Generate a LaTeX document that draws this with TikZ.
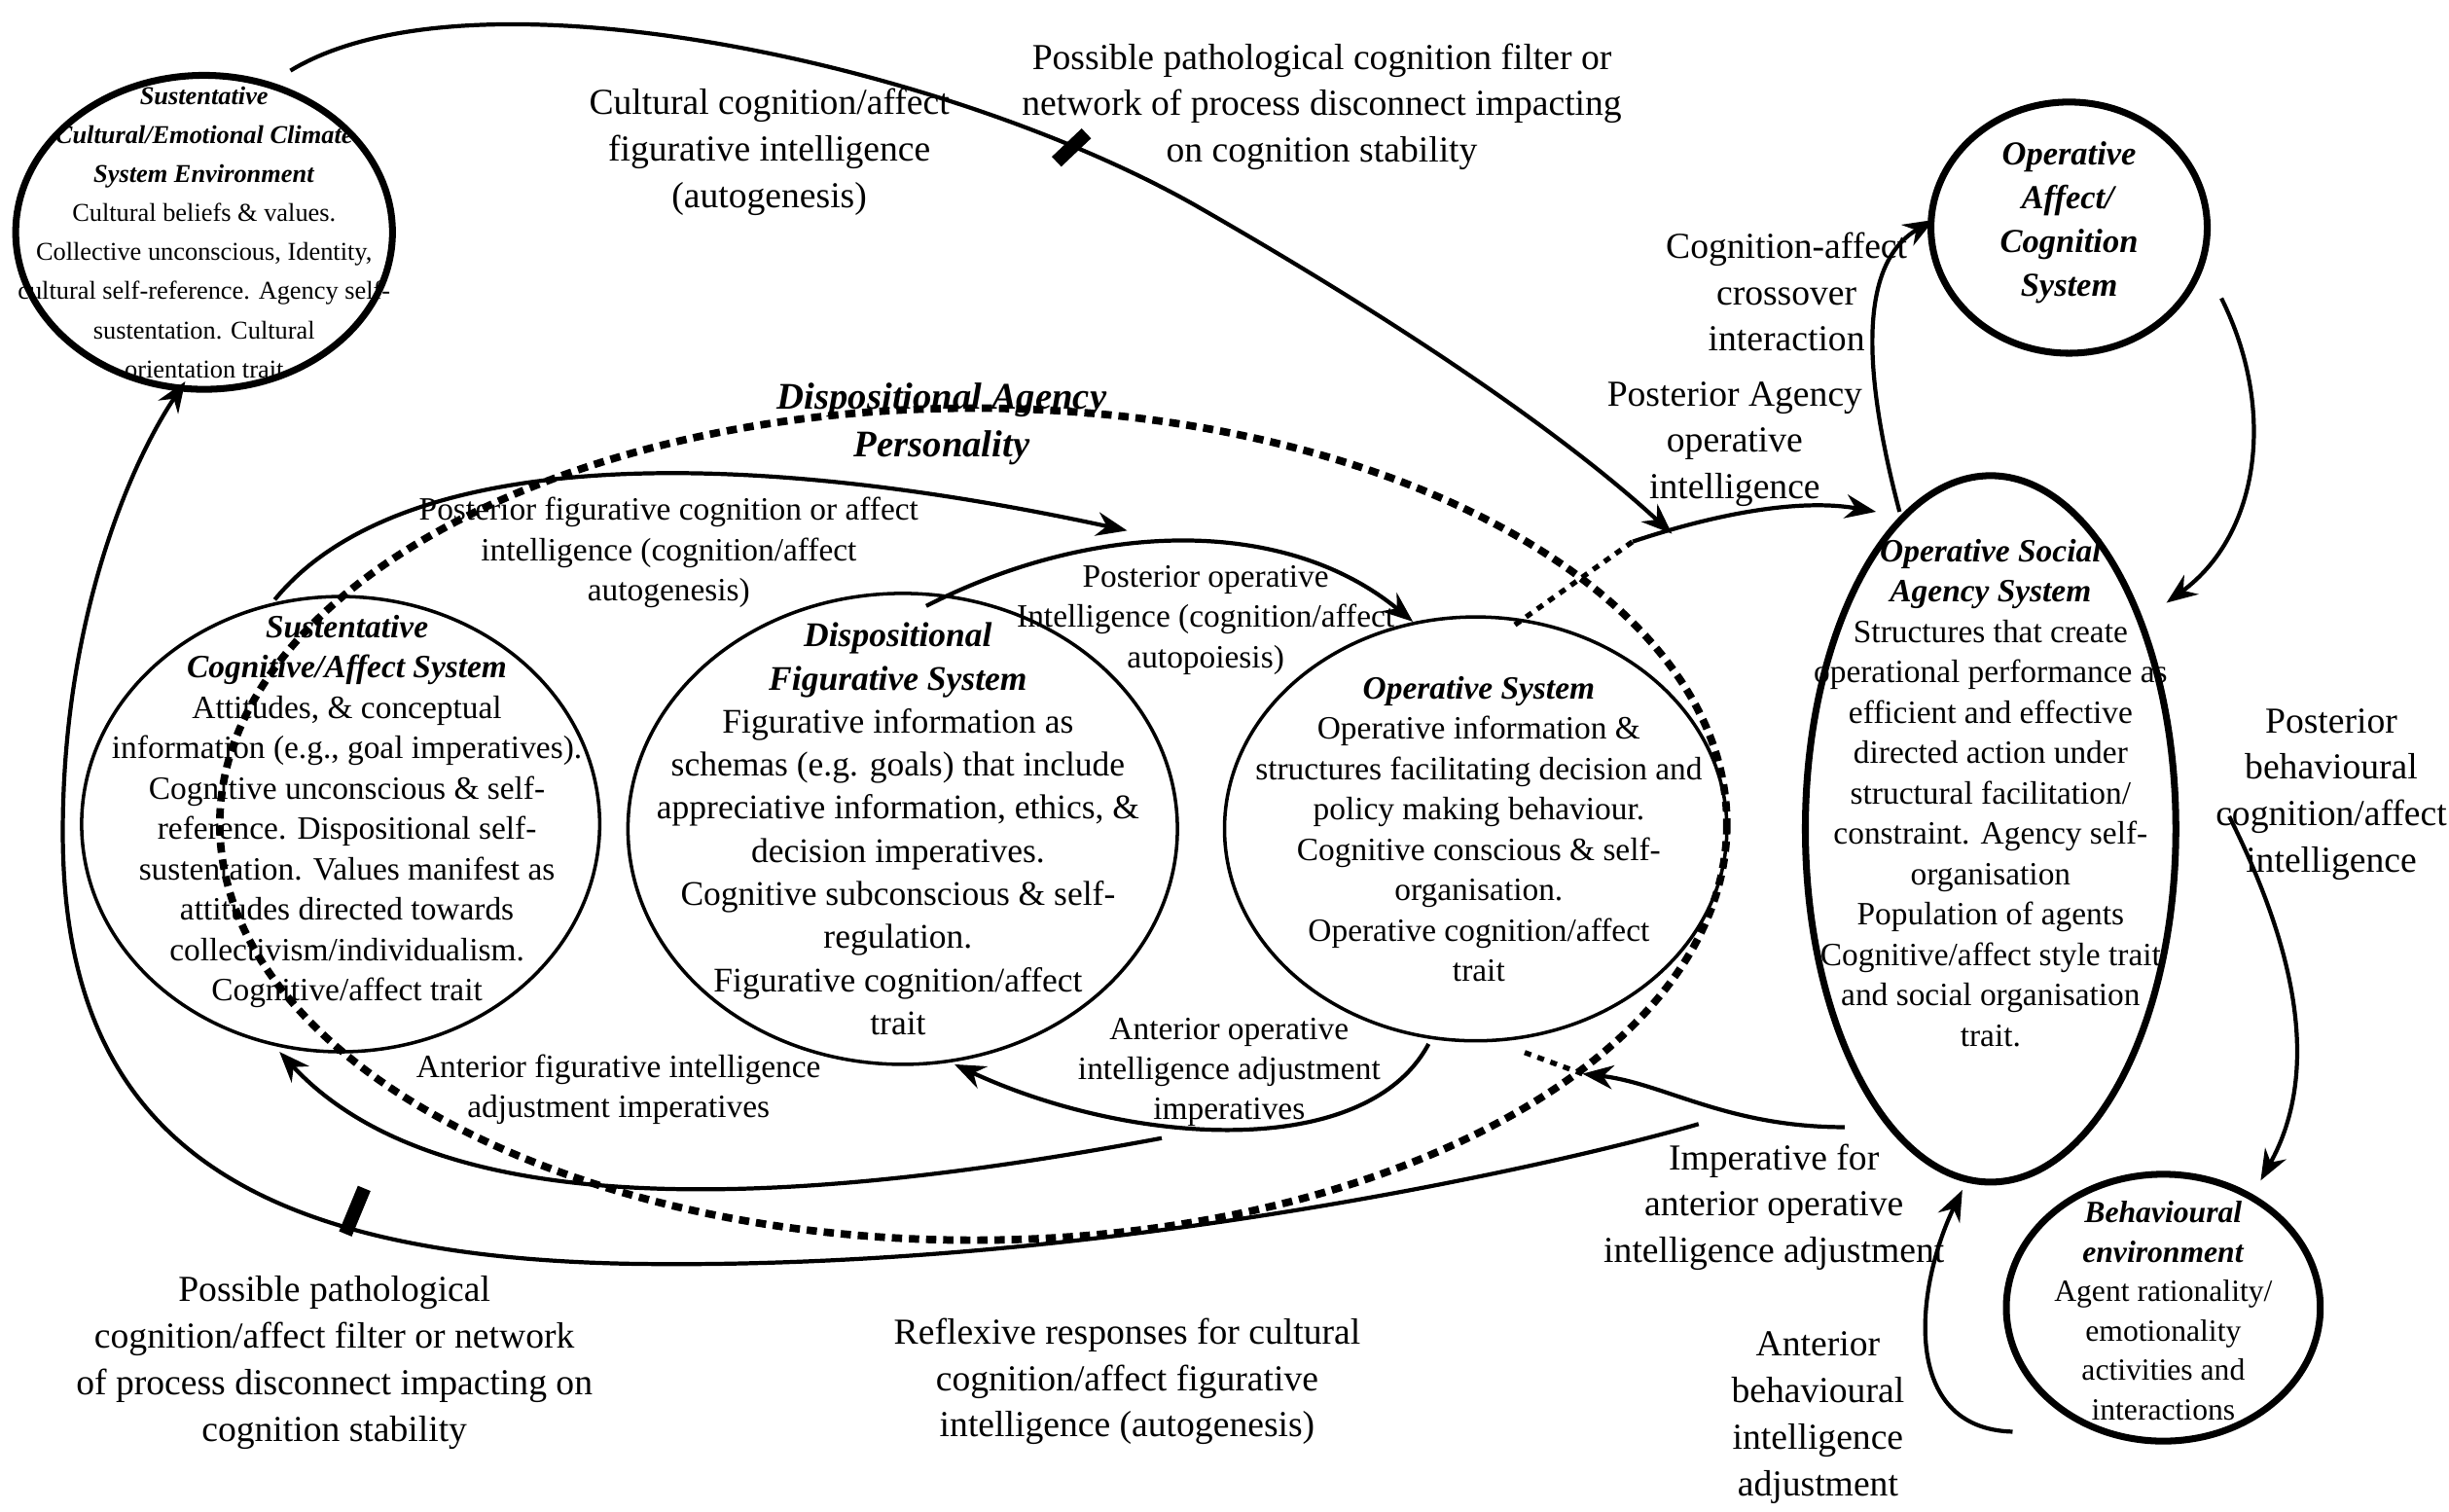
\documentclass[tikz,border=0pt]{standalone}
\usepackage{fontspec}
\setmainfont{Liberation Serif}
\usetikzlibrary{arrows.meta}
\begin{document}
\begin{tikzpicture}[x=0.016135cm,y=-0.016135cm,
 ar/.style={-{Stealth[length=9pt,width=7pt]},line width=1.2pt},
 t/.style={align=center,font=\fontsize{9.5}{11.8}\selectfont},
 T/.style={align=center,font=\fontsize{10.7}{13.6}\selectfont}]
\useasboundingbox (0,0) rectangle (1560,963);
% ellipses
\draw[line width=2pt] (130,148) ellipse [x radius=120,y radius=100];
\draw[line width=2pt] (1318,145) ellipse [x radius=88,y radius=80];
\draw[line width=2pt] (1268,528) ellipse [x radius=118,y radius=225];
\draw[line width=2pt] (1378,833) ellipse [x radius=100,y radius=85];
\draw[line width=2.2pt,dash pattern=on 3pt off 2pt] (620,525) ellipse [x radius=480,y radius=265];
\draw[line width=1pt] (217,525) ellipse [x radius=165,y radius=145];
\draw[line width=1pt] (575,528) ellipse [x radius=175,y radius=150];
\draw[line width=1pt] (940,528) ellipse [x radius=160,y radius=135];
% texts in ellipses
\node (sct) [align=center,font=\fontsize{7.5}{11.4}\selectfont] at (130,148) {\textbf{\textit{Sustentative}}\\\textbf{\textit{Cultural/Emotional Climate}}\\\textbf{\textit{System Environment}}\\Cultural beliefs \& values.\\Collective unconscious, Identity,\\cultural self-reference. Agency self-\\sustentation. Cultural\\orientation trait};
\node (oac) [align=center,font=\fontsize{9.8}{12.8}\selectfont] at (1318,142) {\textbf{\textit{Operative}}\\\textbf{\textit{Affect/}}\\\textbf{\textit{Cognition}}\\\textbf{\textit{System}}};
\node (osa) [t] at (1268,505) {\textbf{\textit{Operative Social}}\\\textbf{\textit{Agency System}}\\Structures that create\\operational performance as\\efficient and effective\\directed action under\\structural facilitation/\\constraint. Agency self-\\organisation\\Population of agents\\Cognitive/affect style trait\\and social organisation\\trait.};
\node (be) [align=center,font=\fontsize{9}{11.5}\selectfont] at (1378,835) {\textbf{\textit{Behavioural}}\\\textbf{\textit{environment}}\\Agent rationality/\\emotionality\\activities and\\interactions};
\node (dap) [T,font=\fontsize{11}{14}\selectfont] at (600,270) {\textbf{\textit{Dispositional Agency}}\\\textbf{\textit{Personality}}};
\node (scs) [t] at (221,517) {\textbf{\textit{Sustentative}}\\\textbf{\textit{Cognitive/Affect System}}\\Attitudes, \& conceptual\\information (e.g., goal imperatives).\\Cognitive unconscious \& self-\\reference. Dispositional self-\\sustentation. Values manifest as\\attitudes directed towards\\collectivism/individualism.\\Cognitive/affect trait};
\node (dfs) [align=center,font=\fontsize{10.1}{12.6}\selectfont] at (572,528) {\textbf{\textit{Dispositional}}\\\textbf{\textit{Figurative System}}\\Figurative information as\\schemas (e.g. goals) that include\\appreciative information, ethics, \&\\decision imperatives.\\Cognitive subconscious \& self-\\regulation.\\Figurative cognition/affect\\trait};
\node (ops) [t] at (942,528) {\textbf{\textit{Operative System}}\\Operative information \&\\structures facilitating decision and\\policy making behaviour.\\Cognitive conscious \& self-\\organisation.\\Operative cognition/affect\\trait};
% coordinates
\coordinate (a1) at (185,45); \coordinate (a1e) at (1065,340);
\coordinate (b0) at (1040,345); \coordinate (b1) at (1195,326);
\coordinate (d0) at (965,398);
\coordinate (c0) at (1082,716); \coordinate (c1) at (118,243);
\coordinate (e0) at (1175,718); \coordinate (e1) at (1008,684);
\coordinate (f0) at (175,382); \coordinate (f1) at (718,338);
\coordinate (g0) at (590,386); \coordinate (g1) at (900,396);
\coordinate (h0) at (740,725); \coordinate (h1) at (178,670);
\coordinate (i0) at (910,665); \coordinate (i1) at (608,678);
% connectors
\draw[ar] (a1) .. controls (300,-25) and (600,40) .. (760,130) .. controls (900,210) and (1000,280) .. (a1e);
\draw[line width=4pt] (673,103) -- (692,85);
\draw[ar] (b0) .. controls (1100,325) and (1150,318) .. (b1);
\draw[line width=1.5pt,dash pattern=on 2pt off 2pt] (d0) -- (b0);
\draw[ar] (c0) .. controls (1000,740) and (700,810) .. (400,805) .. controls (150,800) and (40,720) .. (40,530) .. controls (40,400) and (80,300) .. (c1);
\draw[line width=4pt] (220,786) -- (232,757);
\draw[ar] (e0) .. controls (1100,718) and (1060,690) .. (e1);
\draw[line width=1.5pt,dash pattern=on 2pt off 2pt] (e1) -- (970,670);
\draw[ar] (f0) .. controls (250,290) and (450,280) .. (f1);
\draw[ar] (g0) .. controls (700,330) and (820,330) .. (g1);
\draw[ar] (h0) .. controls (500,770) and (280,780) .. (h1);
\draw[ar] (i0) .. controls (870,740) and (720,730) .. (i1);
\draw[ar] (1210,326) .. controls (1190,250) and (1180,170) .. (1232,140);
\draw[ar] (1415,190) .. controls (1450,260) and (1440,340) .. (1380,384);
\draw[ar] (1420,520) .. controls (1460,600) and (1480,680) .. (1440,752);
\draw[ar] (1282,912) .. controls (1210,910) and (1220,820) .. (1250,758);
% labels
\node[T] at (490,97) {Cultural cognition/affect\\figurative intelligence\\(autogenesis)};
\node[T] at (842,68) {Possible pathological cognition filter or\\network of process disconnect impacting\\on cognition stability};
\node[T] at (1138,186) {Cognition-affect\\crossover\\interaction};
\node[T] at (1105,283) {Posterior Agency\\operative\\intelligence};
\node[T] at (1485,506) {Posterior\\behavioural\\cognition/affect\\intelligence};
\node[T] at (1130,769) {Imperative for\\anterior operative\\intelligence adjustment};
\node[T] at (1158,903) {Anterior\\behavioural\\intelligence\\adjustment};
\node[T] at (718,880) {Reflexive responses for cultural\\cognition/affect figurative\\intelligence (autogenesis)};
\node[T] at (213,868) {Possible pathological\\cognition/affect filter or network\\of process disconnect impacting on\\cognition stability};
\node[t] at (426,352) {Posterior figurative cognition or affect\\intelligence (cognition/affect\\autogenesis)};
\node[t] at (768,395) {Posterior operative\\Intelligence (cognition/affect\\autopoiesis)};
\node[t] at (394,694) {Anterior figurative intelligence\\adjustment imperatives};
\node[t] at (783,683) {Anterior operative\\intelligence adjustment\\imperatives};
\end{tikzpicture}
\end{document}
